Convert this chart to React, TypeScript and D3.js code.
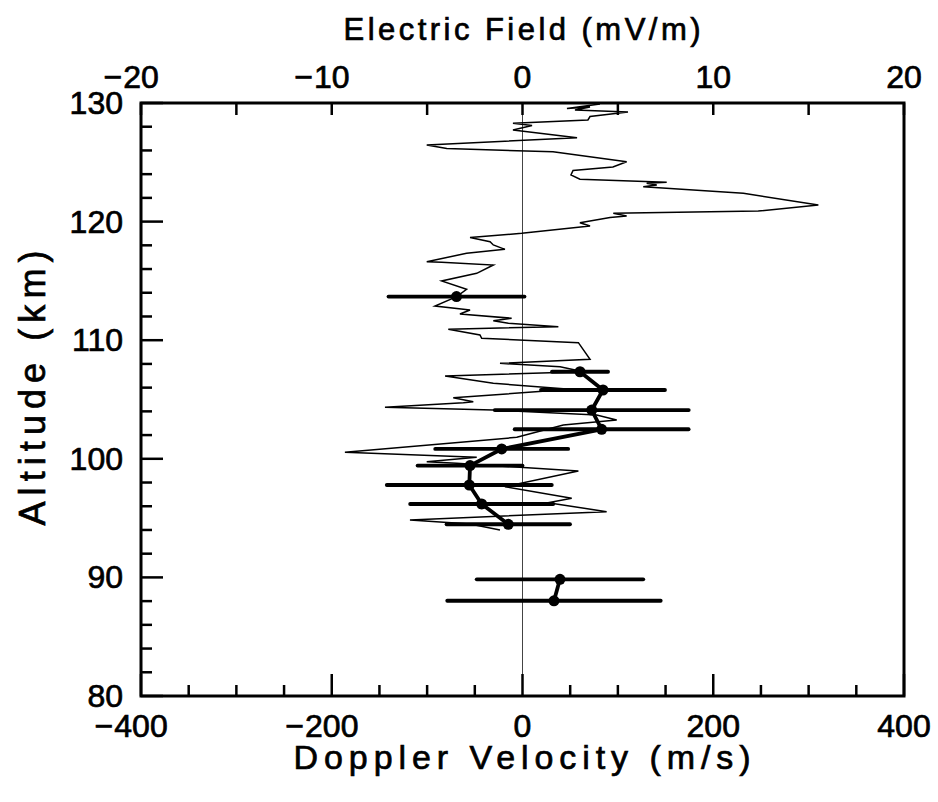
import React from "react";
import * as d3 from "d3";

// Electric field trace: [E (mV/m), altitude (km)]
const efieldE = [4.06, 2.33, 3.54, 2.75, 5.53, 3.54, 3.43, -0.5, 0.5, -0.5, 2.86, -5.02, -3.97, 1.6, 5.46, 4.74, 2.65, 2.54, 3.01, 7.56, 6.51, 7.04, 6.33, 11.58, 15.51, 12.36, 4.76, 5.46, 4.59, 3.01, 3.54, -0.04, -2.75, -1.7, -1.53, -0.92, -2.93, -5.02, -4.24, -1.53, -2.4, -4.24, -2.93, -3.45, -4.59, -2.75, -3.28, -0.57, -1.53, -0.74, 1.88, -3.89, -2.23, -2.14, 2.93, 3.54, -1.18, 1.97, 3.19, -4.06, -1.53, 2.49, -3.63, -2.58, -3.1, -7.21, -1.53, 3.89, 4.94, 2.14, -0.3, -9.31, -2.4, -5.02, -3.45, 2.93, -0.92, 2.58, 1.34, 4.41, -5.9, -2.75, -1.18];
const efieldAlt = [129.92, 129.54, 129.66, 129.41, 129.24, 128.86, 128.57, 128.29, 128.1, 127.72, 127.07, 126.46, 126.16, 125.89, 125.05, 124.6, 124.31, 123.93, 123.57, 123.31, 123.23, 123.09, 122.94, 122.39, 121.4, 120.89, 120.7, 120.47, 120.35, 119.91, 119.63, 119.01, 118.66, 118.3, 118.03, 117.66, 117.33, 116.62, 116.57, 116.34, 115.64, 114.99, 114.29, 113.67, 112.88, 112.55, 112.21, 111.85, 111.64, 111.42, 111.14, 110.92, 110.44, 110.16, 109.79, 108.39, 108.05, 107.77, 107.34, 106.98, 106.37, 105.86, 105.15, 104.81, 104.73, 104.34, 104.11, 103.69, 103.27, 102.85, 101.81, 100.55, 100.13, 99.76, 99.62, 98.97, 97.65, 96.67, 96.3, 95.54, 94.84, 94.5, 93.99];

// Doppler velocity measurements
const dopAlt = [113.68, 107.34, 105.8, 104.11, 102.49, 100.83, 99.43, 97.79, 96.19, 94.48, 89.84, 88.03];
const dopVel = [-69.2, 60.3, 84.4, 72.6, 83, -21.8, -55, -55.8, -42.8, -14.9, 39.3, 33];
const dopErr = [71.3, 29.4, 65, 101.7, 91.2, 69.7, 55, 86.5, 75, 64.7, 87.3, 111.9];
// connected groups (indices)
const dopGroups = [[0], [1, 2, 3, 4, 5, 6, 7, 8, 9], [10, 11]];

const velTicks = [-400, -200, 0, 200, 400];
const efTicks = [-20, -10, 0, 10, 20];
const altTicks = [80, 90, 100, 110, 120, 130];

const W = 938, H = 802;
const L = 141, R = 904, T = 103, B = 696;
const FONT = "'Liberation Sans', Arial, Helvetica, sans-serif";
const FS = 32;
const TXT = { fontFamily: FONT, fill: "#000", stroke: "#000", strokeWidth: 0.7 } as const;

function NumLabel({ x, y, v }: { x: number; y: number; v: number }) {
  const digits = String(Math.abs(v));
  const w = digits.length * 0.556 * FS;
  return (
    <g>
      <text x={x} y={y} textAnchor="middle" fontSize={FS} {...TXT}>{digits}</text>
      {v < 0 && (
        <text x={x - w / 2 - 1} y={y} textAnchor="end" fontSize={FS} {...TXT}>−</text>
      )}
    </g>
  );
}

export default function App() {
  const x = d3.scaleLinear().domain([-400, 400]).range([L, R]);
  const xE = d3.scaleLinear().domain([-20, 20]).range([L, R]);
  const y = d3.scaleLinear().domain([80, 130]).range([B, T]);

  const efLine = d3
    .line<number>()
    .x((_, i) => xE(efieldE[i]))
    .y((_, i) => y(efieldAlt[i]));
  const efPath = efLine(efieldE) || "";

  const dopLine = d3
    .line<number>()
    .x((i) => x(dopVel[i]))
    .y((i) => y(dopAlt[i]));

  const velMinor = d3.range(-400, 401, 50);
  const efMinor = d3.range(-20, 20.01, 5);
  const altMinor = d3.range(80, 130.01, 2);

  return (
    <svg width={W} height={H} style={{ position: "absolute", left: 0, top: 0, background: "#fff" }}>
      <rect x={0} y={0} width={W} height={H} fill="#fff" />
      {/* zero line */}
      <line x1={x(0)} x2={x(0)} y1={T} y2={B} stroke="#444" strokeWidth={1} />

      {/* E-field trace */}
      <path d={efPath} fill="none" stroke="#000" strokeWidth={1.5} strokeLinejoin="miter" />

      {/* Doppler error bars */}
      {dopAlt.map((a, i) => (
        <line key={"eb" + i} x1={x(dopVel[i] - dopErr[i])} x2={x(dopVel[i] + dopErr[i])} y1={y(a)} y2={y(a)}
          stroke="#000" strokeWidth={3.8} strokeLinecap="round" />
      ))}
      {dopGroups.map((g, k) => (
        <path key={"dg" + k} d={dopLine(g) || ""} fill="none" stroke="#000" strokeWidth={3.8} strokeLinejoin="round" />
      ))}
      {dopAlt.map((a, i) => (
        <circle key={"pt" + i} cx={x(dopVel[i])} cy={y(a)} r={5.5} fill="#000" />
      ))}

      {/* ticks bottom */}
      {velMinor.map((v) => {
        const major = v % 200 === 0;
        return <line key={"bt" + v} x1={x(v)} x2={x(v)} y1={B} y2={B - (major ? 22 : 11)} stroke="#000" strokeWidth={2.5} />;
      })}
      {/* ticks top */}
      {efMinor.map((v) => (
        <line key={"tt" + v} x1={xE(v)} x2={xE(v)} y1={T} y2={T + 12} stroke="#000" strokeWidth={2.5} />
      ))}
      {/* ticks left */}
      {altMinor.map((v) => {
        const major = Math.round(v) % 10 === 0;
        return <line key={"lt" + v} x1={L} x2={L + (major ? 22 : 11)} y1={y(v)} y2={y(v)} stroke="#000" strokeWidth={2.5} />;
      })}

      {/* frame */}
      <rect x={L} y={T} width={R - L} height={B - T} fill="none" stroke="#000" strokeWidth={3} />

      {/* tick labels */}
      {velTicks.map((v) => <NumLabel key={"bl" + v} x={x(v)} y={737} v={v} />)}
      {efTicks.map((v) => <NumLabel key={"tl" + v} x={xE(v)} y={88} v={v} />)}
      {altTicks.map((v) => (
        <text key={"ll" + v} x={123} y={y(v) + 11} textAnchor="end" fontSize={FS} {...TXT}>{v}</text>
      ))}

      {/* titles */}
      <text x={522} y={40} textAnchor="middle" fontSize={31} {...TXT} textLength={357} lengthAdjust="spacing">Electric Field (mV/m)</text>
      <text x={522} y={769} textAnchor="middle" fontSize={34} {...TXT} textLength={457} lengthAdjust="spacing">Doppler Velocity (m/s)</text>
      <text transform={`translate(45, 388) rotate(-90)`} textAnchor="middle" fontSize={36} {...TXT} textLength={275} lengthAdjust="spacing">Altitude (km)</text>
    </svg>
  );
}
